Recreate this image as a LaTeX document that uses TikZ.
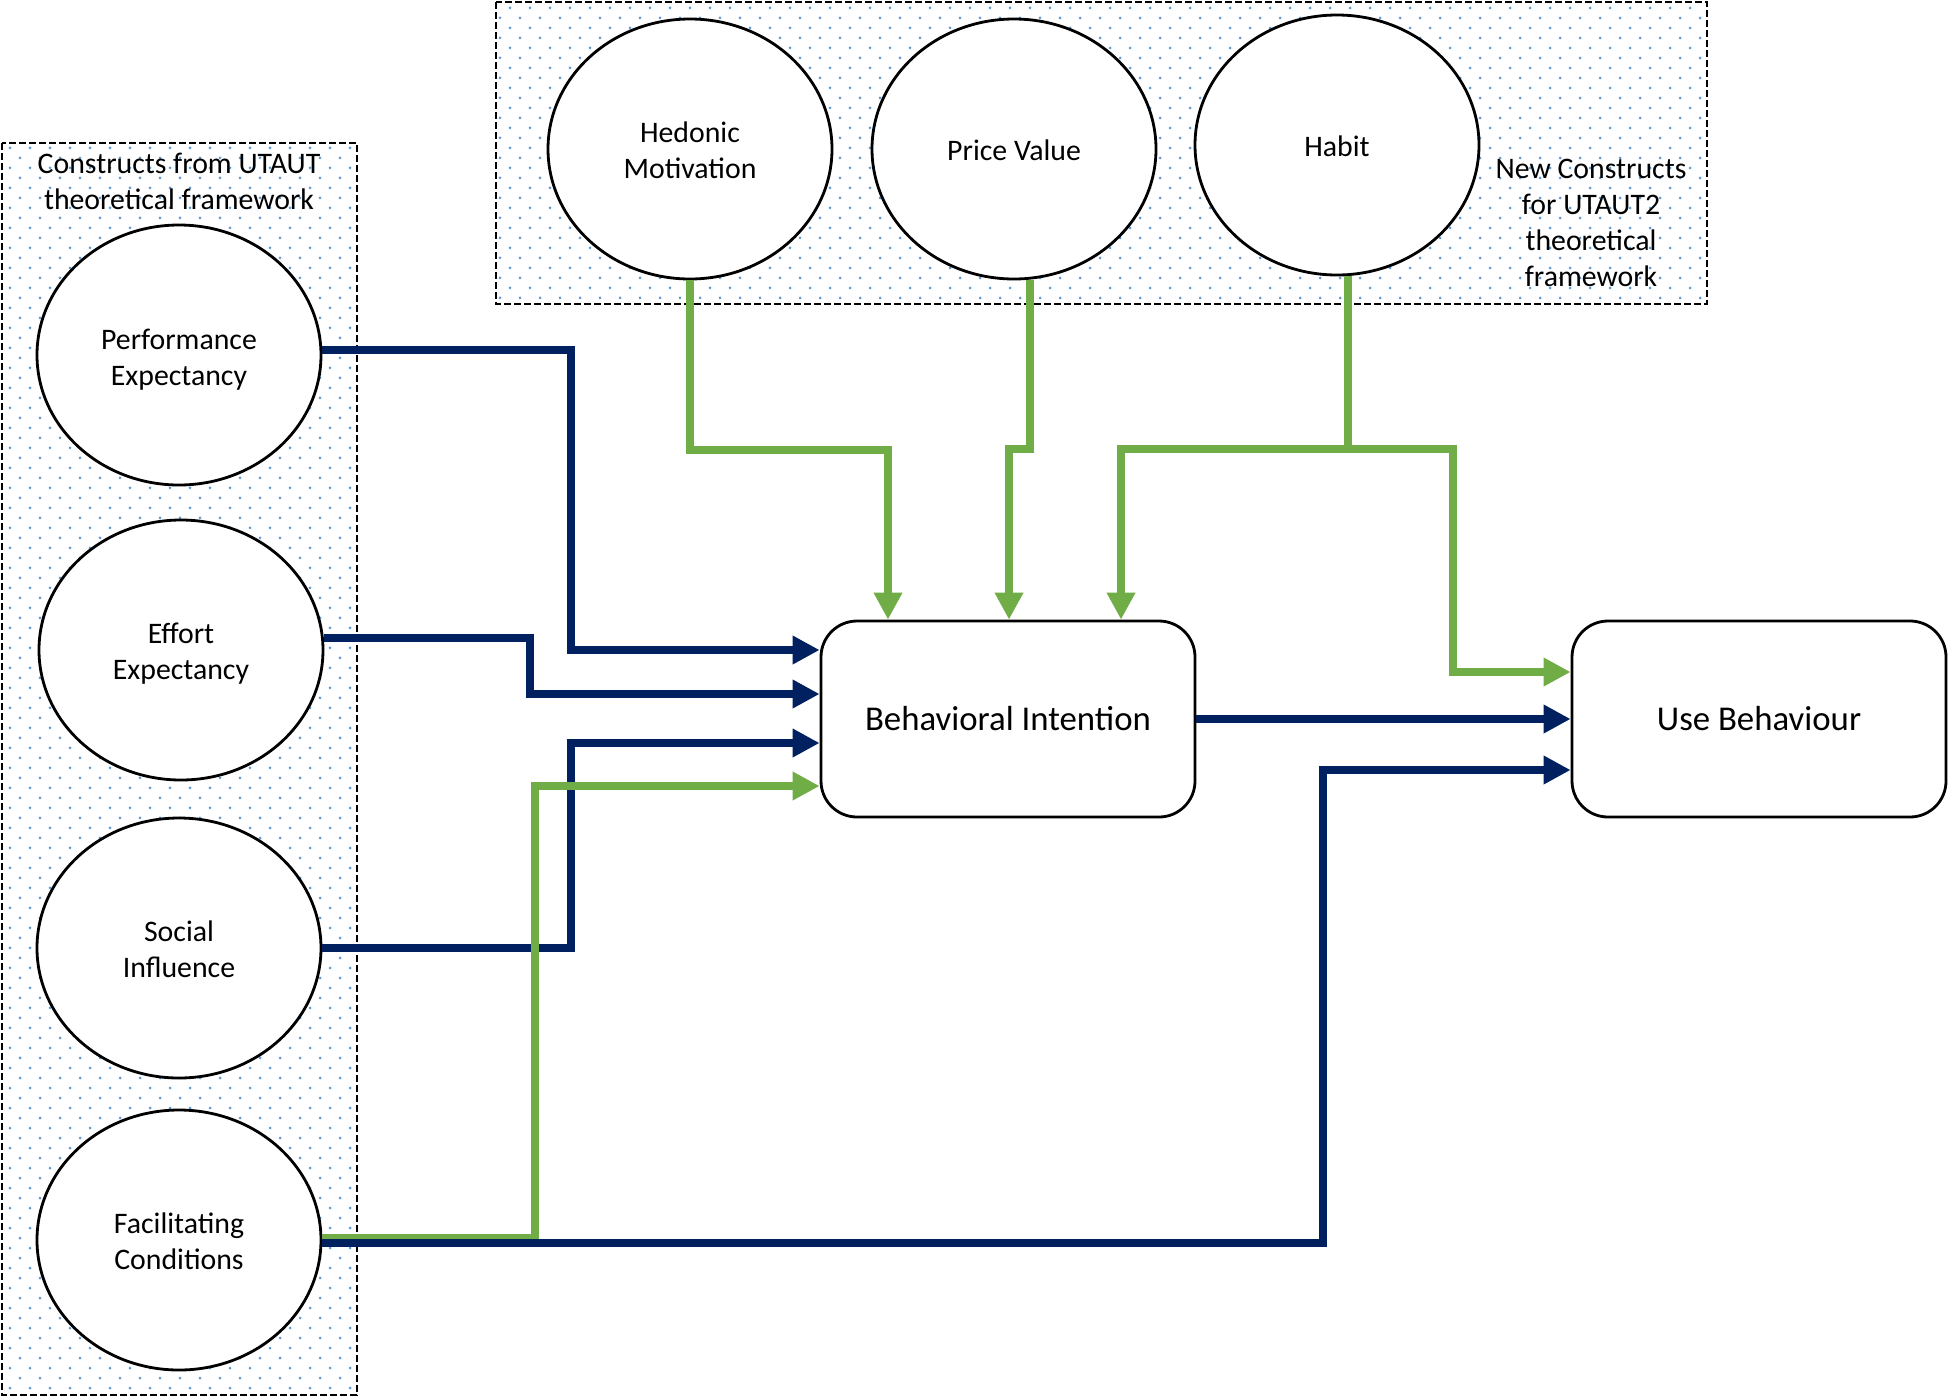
\documentclass[tikz,border=0pt]{standalone}
\usepackage{fontspec}
\setmainfont{Carlito}
\usetikzlibrary{arrows.meta,shapes.geometric,patterns}
\definecolor{navy}{HTML}{002060}
\definecolor{leaf}{HTML}{70AD47}
\definecolor{dotblue}{HTML}{5B9BD5}
\pgfdeclarepatternformonly{bluedots}{\pgfqpoint{-1pt}{-1pt}}{\pgfqpoint{11pt}{11pt}}{\pgfqpoint{10pt}{10pt}}{%
  \pgfpathcircle{\pgfqpoint{0pt}{0pt}}{0.75pt}%
  \pgfpathcircle{\pgfqpoint{5pt}{5pt}}{0.75pt}%
  \pgfusepath{fill}%
}
\newcommand{\lowerby}[2]{\raisebox{-#1}[\height][\depth]{#2}}
\tikzset{
  groupbox/.style={pattern=bluedots, pattern color=dotblue, draw=black, line width=1.3pt, dash pattern=on 3.5pt off 1.5pt},
  grouplabel/.style={align=center, inner sep=0pt, font=\fontsize{14.9}{18}\selectfont},
  construct/.style={ellipse, draw=black, line width=1.4pt, fill=white, minimum width=142pt, minimum height=130pt, inner sep=0pt, align=center, font=\fontsize{14.9}{18}\selectfont},
  outcome/.style={rectangle, rounded corners=18pt, draw=black, line width=1.4pt, fill=white, minimum width=187pt, minimum height=98pt, inner sep=0pt, font=\fontsize{17.4}{21}\selectfont},
  link/.style={line width=4pt, -{Triangle[length=13.5pt,width=13.5pt]}},
  navylink/.style={link, draw=navy},
  greenlink/.style={link, draw=leaf},
}
\begin{document}
\begin{tikzpicture}[x=0.5pt,y=-0.5pt]
\useasboundingbox (0,0) rectangle (1948,1398);
\fill[white] (0,0) rectangle (1948,1398);

% group frames
\draw[groupbox] (2,143) rectangle (357,1395);
\draw[groupbox] (496,2) rectangle (1707,304);

\node[grouplabel] (utautlbl) at (179,181) {Constructs from UTAUT\\theoretical framework};
\node[grouplabel] (newlbl) at (1591,223) {New Constructs\\for UTAUT2\\theoretical\\framework};

% constructs
\node[construct] (perf) at (179,355) {\lowerby{2.5pt}{Performance}\\\lowerby{2.5pt}{Expectancy}};
\node[construct] (eff) at (181,650) {\lowerby{2pt}{Effort}\\\lowerby{2pt}{Expectancy}};
\node[construct] (soc) at (179,948) {\lowerby{0.6pt}{Social}\\\lowerby{0.6pt}{Influence}};
\node[construct] (fc) at (179,1240) {\lowerby{0.6pt}{Facilitating}\\\lowerby{0.6pt}{Conditions}};
\node[construct] (hm) at (690,149) {\lowerby{0.6pt}{Hedonic}\\\lowerby{0.6pt}{Motivation}};
\node[construct] (pv) at (1014,149) {\lowerby{0.6pt}{Price Value}};
\node[construct] (hb) at (1337,145) {\lowerby{0.6pt}{Habit}};

% outcomes
\node[outcome] (bi) at (1008,719) {Behavioral Intention};
\node[outcome] (ub) at (1759,719) {Use Behaviour};

% bend points
\coordinate (k1) at (571,650);
\coordinate (k2) at (530,694);
\coordinate (k3) at (571,743);
\coordinate (k4) at (535,786);
\coordinate (k5) at (1323,770);
\coordinate (k7) at (888,450);
\coordinate (k8) at (1009,449);
\coordinate (k9) at (1121,449);
\coordinate (k10a) at (1453,449);
\coordinate (k10) at (1453,672);

% navy links into BI
\draw[navylink] (perf.2.6) -| (k1) -- (k1 -| bi.west);
\draw[navylink] (eff.5.7) -| (k2) -- (k2 -| bi.west);
\draw[navylink] (soc.east) -| (k3) -- (k3 -| bi.west);
\draw[navylink] (bi.east) -- (bi.east -| ub.west);

% green links
\draw[greenlink] (fc.1.2) -| (k4) -- (k4 -| bi.west);
\draw[greenlink] (hm.south) |- (k7) -- (k7 |- bi.north);
\draw[greenlink] (pv.-83.4) |- (k8) -- (k8 |- bi.north);
\draw[greenlink] (hb.-85.5) |- (k9) -- (k9 |- bi.north);
\draw[greenlink] (hb.-85.5) |- (k10a) -- (k10) -- (k10 -| ub.west);

% facilitating conditions to use behaviour
\draw[navylink] (fc.-1.3) -| (k5) -- (k5 -| ub.west);
\end{tikzpicture}
\end{document}
